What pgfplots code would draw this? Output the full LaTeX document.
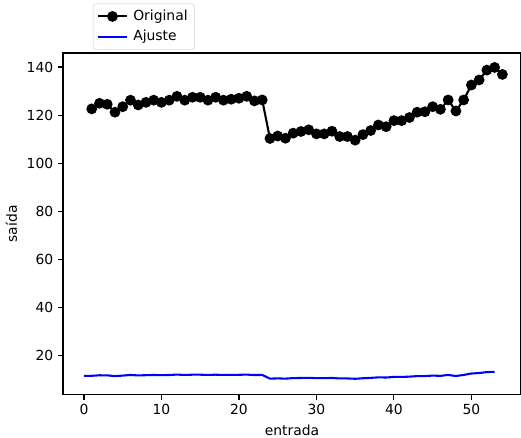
\documentclass[border=0pt]{standalone}
\usepackage{fontspec}
\setmainfont{DejaVu Sans}
\usepackage{pgfplots}
\pgfplotsset{compat=1.18}
\usetikzlibrary{calc}
\begin{document}
\begin{tikzpicture}
\begin{axis}[
  scale only axis,
  width=329.8pt, height=246.2pt,
  xmin=-2.71, xmax=56.4,
  ymin=3.8, ymax=145.8,
  xtick={0,10,20,30,40,50},
  ytick={20,40,60,80,100,120,140},
  xtick pos=lower, ytick pos=left,
  tick align=outside,
  major tick length=3.5pt,
  axis line style={line width=0.8pt},
  every tick/.style={line width=0.8pt, black},
  /pgf/number format/assume math mode=true,
  ticklabel style={font=\fontsize{10pt}{12pt}\selectfont},
  label style={font=\fontsize{10pt}{12pt}\selectfont},
  xlabel={entrada}, ylabel={saída},
  legend style={at={(0.065,1.01)}, anchor=south west, draw=gray!35, rounded corners=2pt,
    font=\fontsize{10pt}{12pt}\selectfont, inner xsep=3pt, inner ysep=2.5pt, row sep=1.5pt},
  legend cell align=left,
  legend image code/.code={\draw[mark repeat=2,mark phase=2,#1] plot coordinates {(0cm,0cm) (0.36cm,0cm) (0.72cm,0cm)};},
]
\coordinate (bl) at (rel axis cs:0,0);
\coordinate (tr) at (rel axis cs:1,1);
\addplot[black, line width=1.5pt, mark=*, mark size=3.1pt] coordinates {
(1,122.6) (2,124.9) (3,124.5) (4,121.2) (5,123.5) (6,126.2) (7,124.2) (8,125.3) (9,126.2) (10,125.3)
(11,126.2) (12,127.8) (13,126.2) (14,127.4) (15,127.4) (16,126.2) (17,127.4) (18,126.2) (19,126.6) (20,127.0)
(21,127.8) (22,125.9) (23,126.3) (24,110.3) (25,111.3) (26,110.4) (27,112.5) (28,113.2) (29,113.9) (30,112.2)
(31,112.2) (32,113.3) (33,111.1) (34,111.1) (35,109.6) (36,111.9) (37,113.6) (38,115.9) (39,115.2) (40,117.7)
(41,117.7) (42,119.0) (43,121.2) (44,121.4) (45,123.5) (46,122.4) (47,126.3) (48,121.7) (49,126.3) (50,132.5)
(51,134.6) (52,138.7) (53,139.8) (54,136.9)
};
\addlegendentry{\hspace{2pt}Original}
\addplot[color={rgb,1:red,0;green,0;blue,1}, line width=1.5pt, no marks] coordinates {
(0,11.70) (1,11.73) (2,11.95) (3,11.91) (4,11.60) (5,11.82) (6,12.08) (7,11.89) (8,11.99) (9,12.08) (10,11.99)
(11,12.08) (12,12.23) (13,12.08) (14,12.19) (15,12.19) (16,12.08) (17,12.19) (18,12.08) (19,12.11) (20,12.15)
(21,12.23) (22,12.05) (23,12.09) (24,10.56) (25,10.65) (26,10.56) (27,10.77) (28,10.83) (29,10.90) (30,10.74)
(31,10.74) (32,10.84) (33,10.63) (34,10.63) (35,10.49) (36,10.71) (37,10.87) (38,11.09) (39,11.02) (40,11.26)
(41,11.26) (42,11.39) (43,11.60) (44,11.62) (45,11.82) (46,11.71) (47,12.09) (48,11.65) (49,12.09) (50,12.68)
(51,12.88) (52,13.27) (53,13.38)
};
\addlegendentry{\hspace{2pt}Ajuste}
\end{axis}
\pgfresetboundingbox
\path ($(bl)+(-45.36pt,-30.96pt)$) rectangle ($(tr)+(0pt,38.16pt)$);
\end{tikzpicture}
\end{document}
